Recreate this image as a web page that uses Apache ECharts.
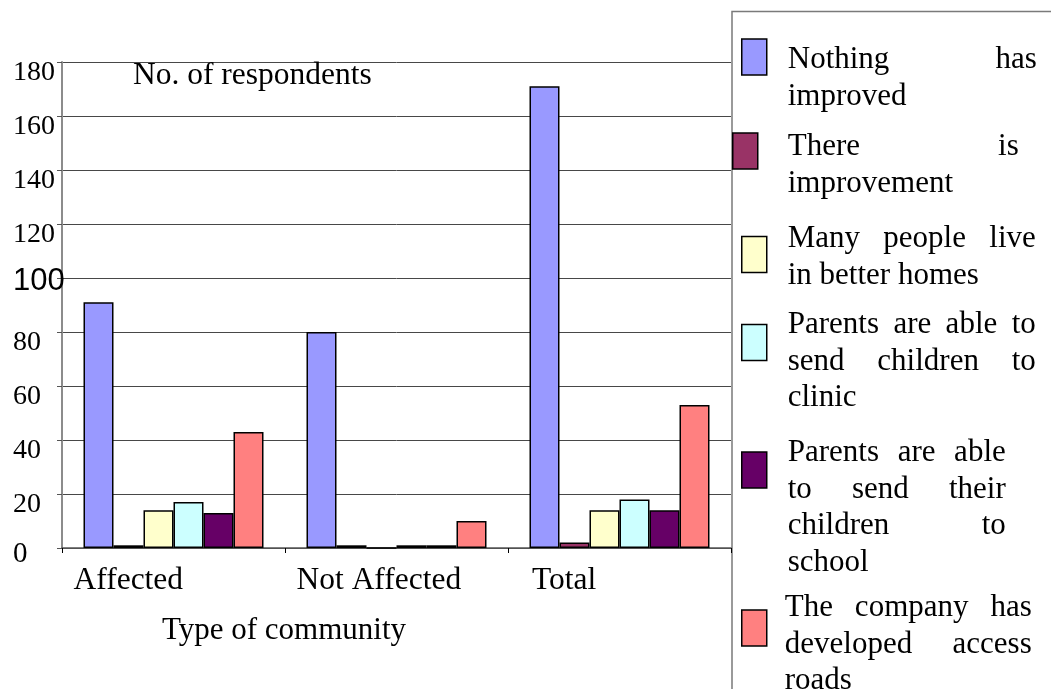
<!DOCTYPE html>
<html>
<head>
<meta charset="utf-8">
<style>
  html, body { margin: 0; padding: 0; background: #fff; }
  #main { width: 1051px; height: 689px; }
</style>
<script src="https://cdn.jsdelivr.net/npm/echarts@6/dist/echarts.min.js"></script>
</head>
<body>
<div id="main"></div>
<script>
// data
const categories = ['Affected', 'Not Affected', 'Total'];
const seriesNames = [
  'Nothing has improved',
  'There is improvement',
  'Many people live in better homes',
  'Parents are able to send children to clinic',
  'Parents are able to send their children to school',
  'The company has developed access roads'
];
const nothingImproved = [91, 80, 171];
const thereIsImprovement = [1, 1, 2];
const betterHomes = [14, 0, 14];
const childrenToClinic = [17, 1, 18];
const childrenToSchool = [13, 1, 14];
const accessRoads = [43, 10, 53];
const yMin = 0, yMax = 180, yStep = 20;

const colors = ['#9999FF', '#993366', '#FFFFCC', '#CCFFFF', '#660066', '#FF8080'];
const serif = '"Liberation Serif", "Times New Roman", serif';
const sans = '"Liberation Sans", Arial, sans-serif';

// legend layout (one legend per entry, justified text like the original)
const legendIconX = [741, 732, 741, 741, 741, 741];
const legendIconMid = [57, 151, 254.5, 342.5, 470, 628];
const legendTextX = [787, 787, 787, 787, 787, 784];
const legendTextW = [249, 231, 248, 248, 218, 247];
const legendTextMid = [60, 147, 239, 325, 453, 608];
const LEG_FONT = 31, LEG_LH = 36.5, ICON_W = 25, ICON_H = 36;

const ctx = document.createElement('canvas').getContext('2d');
ctx.font = LEG_FONT + 'px ' + serif;

function justify(text, boxW) {
  const words = text.split(' ');
  const lines = [];
  let cur = [];
  words.forEach(w => {
    const trial = cur.concat(w).join(' ');
    if (cur.length && ctx.measureText(trial).width > boxW) {
      lines.push(cur);
      cur = [w];
    } else {
      cur.push(w);
    }
  });
  lines.push(cur);
  const rich = {};
  const out = lines.map((ln, li) => {
    if (li === lines.length - 1 || ln.length < 2) return ln.join(' ');
    const wsum = ln.reduce((s, w) => s + ctx.measureText(w).width, 0);
    rich['g' + li] = { width: (boxW - wsum) / (ln.length - 1) };
    return ln.join('{g' + li + '| }');
  });
  return { text: out.join('\n'), rich: rich, n: lines.length };
}

const legends = seriesNames.map((name, i) => {
  const j = justify(name, legendTextW[i]);
  const p = 2 * (legendTextMid[i] - legendIconMid[i]) + (j.n - 1) * LEG_LH;
  const padTop = Math.max(0, p), padBottom = Math.max(0, -p);
  const H = j.n * LEG_LH + Math.abs(p);
  return {
    orient: 'vertical',
    left: legendIconX[i],
    top: legendIconMid[i] - Math.max(ICON_H / 2, H / 2),
    padding: 0,
    itemGap: 0,
    itemWidth: ICON_W,
    itemHeight: ICON_H,
    icon: 'rect',
    selectedMode: false,
    data: [name],
    itemStyle: { borderColor: '#000', borderWidth: 1.5 },
    formatter: () => j.text,
    textStyle: {
      fontFamily: serif,
      fontSize: LEG_FONT,
      lineHeight: LEG_LH,
      color: '#000',
      padding: [padTop, 0, padBottom, legendTextX[i] - legendIconX[i] - ICON_W - 5],
      rich: j.rich
    }
  };
});

const seriesData = [nothingImproved, thereIsImprovement, betterHomes, childrenToClinic, childrenToSchool, accessRoads];

const chart = echarts.init(document.getElementById('main'), null, { renderer: 'canvas' });
chart.setOption({
  animation: false,
  color: colors,
  title: [
    {
      text: 'No. of respondents',
      left: 133, top: 60, padding: 0,
      textStyle: { fontFamily: serif, fontSize: 31.5, fontWeight: 'normal', color: '#000', lineHeight: 32 }
    },
    {
      text: 'Type of community',
      left: 162, top: 615, padding: 0,
      textStyle: { fontFamily: serif, fontSize: 31, fontWeight: 'normal', color: '#000', lineHeight: 31 }
    }
  ],
  legend: legends,
  graphic: [
    {
      type: 'rect',
      z: -10,
      shape: { x: 732, y: 11.5, width: 400, height: 700 },
      style: { fill: 'none', stroke: '#7a7a7a', lineWidth: 1.5 }
    }
  ],
  grid: { left: 62, right: 320, top: 62, bottom: 141 },
  xAxis: {
    type: 'category',
    data: categories,
    axisLine: { lineStyle: { color: '#555', width: 1.5 } },
    axisTick: { show: true, length: 5, lineStyle: { color: '#000' } },
    axisLabel: {
      interval: 0,
      margin: 17,
      color: '#000',
      fontFamily: serif,
      fontSize: 31.5,
      lineHeight: 32,
      formatter: (v, i) => '{c' + i + '|' + v + '}',
      rich: {
        c0: { width: 200, align: 'left' },
        c1: { width: 200, align: 'left' },
        c2: { width: 175, align: 'left' }
      }
    }
  },
  yAxis: {
    type: 'value',
    min: yMin,
    max: yMax,
    interval: yStep,
    axisLine: { show: true, lineStyle: { color: '#8c8c8c', width: 2 } },
    axisTick: { show: true, length: 5, lineStyle: { color: '#555' } },
    splitLine: { lineStyle: { color: '#484848', width: 1 } },
    axisLabel: {
      align: 'left',
      margin: 49,
      color: '#000',
      fontFamily: serif,
      fontSize: 28,
      formatter: v => v === 100 ? '{s|100}' : (v === 0 ? '{z|0}' : '{n|' + v + '}'),
      rich: {
        n: { padding: [22, 0, 0, 0] },
        z: { fontSize: 29, padding: [12, 0, 0, 0] },
        s: { fontFamily: sans, fontSize: 31, padding: [6, 0, 0, 0] }
      }
    }
  },
  series: seriesNames.map((name, i) => ({
    name: name,
    type: 'bar',
    barWidth: 30,
    barGap: '0%',
    data: seriesData[i],
    itemStyle: { borderColor: '#000', borderWidth: 1.5 }
  }))
});
</script>
</body>
</html>
